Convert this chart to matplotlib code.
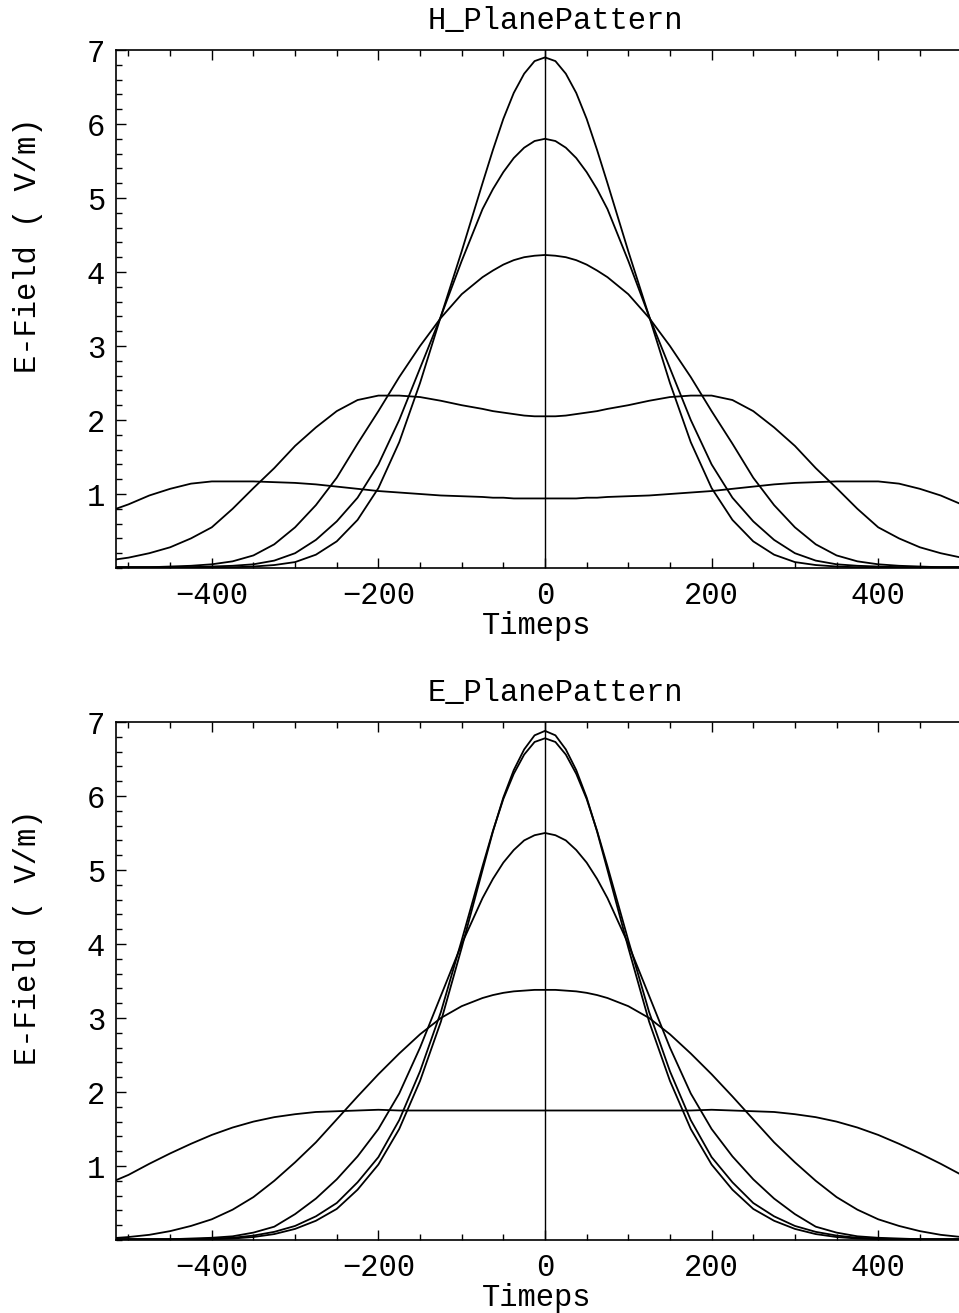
import matplotlib
matplotlib.use('Agg')
import matplotlib.pyplot as plt
import numpy as np
from matplotlib.ticker import MultipleLocator, FixedLocator

plt.rcParams['font.family'] = ['Liberation Mono', 'DejaVu Sans Mono']

# time axis in ps (finer steps round the peak)
t = np.concatenate([np.arange(-525, -99, 25), np.arange(-75, 76, 12.5), np.arange(100, 526, 25)])

## H-plane pattern (top)
h_a = [0.01, 0.01, 0.01, 0.01, 0.01, 0.01, 0.01, 0.02, 0.04, 0.08, 0.18, 0.36, 0.65, 1.08, 1.70, 2.50, 3.40, 4.28,
       5.20, 5.65, 6.07, 6.42, 6.68, 6.85, 6.90, 6.85, 6.68, 6.42, 6.07, 5.65, 5.20,
       4.28, 3.40, 2.50, 1.70, 1.08, 0.65, 0.36, 0.18, 0.08, 0.04, 0.02, 0.01, 0.01, 0.01, 0.01, 0.01, 0.01, 0.01]
h_b = [0.01, 0.01, 0.01, 0.01, 0.01, 0.02, 0.03, 0.05, 0.10, 0.20, 0.38, 0.63, 0.95, 1.40, 2.00, 2.70, 3.40, 4.15,
       4.85, 5.12, 5.35, 5.54, 5.68, 5.77, 5.80, 5.77, 5.68, 5.54, 5.35, 5.12, 4.85,
       4.15, 3.40, 2.70, 2.00, 1.40, 0.95, 0.63, 0.38, 0.20, 0.10, 0.05, 0.03, 0.02, 0.01, 0.01, 0.01, 0.01, 0.01]
h_c = [0.01, 0.01, 0.01, 0.02, 0.03, 0.05, 0.09, 0.17, 0.32, 0.55, 0.85, 1.22, 1.68, 2.12, 2.58, 3.00, 3.38, 3.70,
       3.93, 4.02, 4.10, 4.16, 4.20, 4.22, 4.23, 4.22, 4.20, 4.16, 4.10, 4.02, 3.93,
       3.70, 3.38, 3.00, 2.58, 2.12, 1.68, 1.22, 0.85, 0.55, 0.32, 0.17, 0.09, 0.05, 0.03, 0.02, 0.01, 0.01, 0.01]
h_d = [0.10, 0.14, 0.20, 0.28, 0.40, 0.55, 0.80, 1.08, 1.35, 1.65, 1.90, 2.12, 2.27, 2.33, 2.33, 2.31, 2.26, 2.20,
       2.15, 2.12, 2.10, 2.08, 2.06, 2.05, 2.05, 2.05, 2.06, 2.08, 2.10, 2.12, 2.15,
       2.20, 2.26, 2.31, 2.33, 2.33, 2.27, 2.12, 1.90, 1.65, 1.35, 1.08, 0.80, 0.55, 0.40, 0.28, 0.20, 0.14, 0.10]
h_e = [0.76, 0.86, 0.98, 1.07, 1.14, 1.17, 1.17, 1.17, 1.16, 1.15, 1.13, 1.10, 1.07, 1.04, 1.02, 1.00, 0.98, 0.97,
       0.96, 0.95, 0.95, 0.94, 0.94, 0.94, 0.94, 0.94, 0.94, 0.94, 0.95, 0.95, 0.96,
       0.97, 0.98, 1.00, 1.02, 1.04, 1.07, 1.10, 1.13, 1.15, 1.16, 1.17, 1.17, 1.17, 1.14, 1.07, 0.98, 0.86, 0.76]

## E-plane pattern (bottom)
e_a = [0.01, 0.01, 0.01, 0.01, 0.01, 0.01, 0.02, 0.04, 0.08, 0.15, 0.26, 0.42, 0.68, 1.02, 1.50, 2.15, 2.95, 3.95,
       5.00, 5.52, 5.98, 6.35, 6.63, 6.82, 6.88, 6.82, 6.63, 6.35, 5.98, 5.52, 5.00,
       3.95, 2.95, 2.15, 1.50, 1.02, 0.68, 0.42, 0.26, 0.15, 0.08, 0.04, 0.02, 0.01, 0.01, 0.01, 0.01, 0.01, 0.01]
e_b = [0.01, 0.01, 0.01, 0.01, 0.01, 0.02, 0.03, 0.06, 0.11, 0.19, 0.32, 0.50, 0.78, 1.12, 1.62, 2.28, 3.08, 4.05,
       5.05, 5.53, 5.96, 6.30, 6.56, 6.73, 6.78, 6.73, 6.56, 6.30, 5.96, 5.53, 5.05,
       4.05, 3.08, 2.28, 1.62, 1.12, 0.78, 0.50, 0.32, 0.19, 0.11, 0.06, 0.03, 0.02, 0.01, 0.01, 0.01, 0.01, 0.01]
e_c = [0.01, 0.01, 0.01, 0.01, 0.02, 0.03, 0.05, 0.10, 0.18, 0.35, 0.56, 0.82, 1.13, 1.50, 1.98, 2.60, 3.30, 4.00,
       4.62, 4.88, 5.10, 5.27, 5.40, 5.47, 5.50, 5.47, 5.40, 5.27, 5.10, 4.88, 4.62,
       4.00, 3.30, 2.60, 1.98, 1.50, 1.13, 0.82, 0.56, 0.35, 0.18, 0.10, 0.05, 0.03, 0.02, 0.01, 0.01, 0.01, 0.01]
e_d = [0.02, 0.04, 0.07, 0.12, 0.19, 0.28, 0.41, 0.58, 0.80, 1.05, 1.32, 1.63, 1.94, 2.24, 2.52, 2.78, 3.00, 3.16,
       3.27, 3.31, 3.34, 3.36, 3.37, 3.38, 3.38, 3.38, 3.37, 3.36, 3.34, 3.31, 3.27,
       3.16, 3.00, 2.78, 2.52, 2.24, 1.94, 1.63, 1.32, 1.05, 0.80, 0.58, 0.41, 0.28, 0.19, 0.12, 0.07, 0.04, 0.02]
e_e = [0.76, 0.88, 1.03, 1.17, 1.30, 1.42, 1.52, 1.60, 1.66, 1.70, 1.73, 1.74, 1.75, 1.76, 1.75, 1.75, 1.75, 1.75,
       1.75, 1.75, 1.75, 1.75, 1.75, 1.75, 1.75, 1.75, 1.75, 1.75, 1.75, 1.75, 1.75,
       1.75, 1.75, 1.75, 1.75, 1.76, 1.75, 1.74, 1.73, 1.70, 1.66, 1.60, 1.52, 1.42, 1.30, 1.17, 1.03, 0.88, 0.76]

panels = [
    ('H_PlanePattern', [h_a, h_b, h_c, h_d, h_e]),
    ('E_PlanePattern', [e_a, e_b, e_c, e_d, e_e]),
]

W, H = 959, 1313
fig = plt.figure(figsize=(W / 100, H / 100), dpi=100)

# pixel boxes of the two frames: (top, bottom)
boxes = [(50, 568), (722, 1240)]
title_y = [21, 693]
xlabel_y = [626, 1298]
ylabel_y = [245, 937]

fs = 22
for (title, curves), (top, bot), ty, xy, yy in zip(panels, boxes, title_y, xlabel_y, ylabel_y):
    ax = fig.add_axes([116 / W, 1 - bot / H, (W - 116) / W, (bot - top) / H])
    for y in curves:
        ax.plot(t, y, color='black', lw=1.3, solid_joinstyle='round')
    ax.plot([0, 0], [0, 7], color='black', lw=1.0)

    ax.set_xlim(-515, 497)
    ax.set_ylim(0, 7)

    ax.xaxis.set_major_locator(FixedLocator([-400, -200, 0, 200, 400]))
    ax.xaxis.set_minor_locator(MultipleLocator(50))
    ax.yaxis.set_major_locator(FixedLocator([1, 2, 3, 4, 5, 6, 7]))
    ax.yaxis.set_minor_locator(MultipleLocator(0.2))
    ax.tick_params(which='both', direction='in', top=True, right=False, width=1.0, labelsize=fs)
    ax.tick_params(axis='x', pad=9)
    ax.tick_params(axis='y', pad=8)
    ax.tick_params(which='major', length=7)
    ax.tick_params(which='minor', length=4)
    ax.spines['right'].set_visible(False)
    for s in ['left', 'bottom', 'top']:
        ax.spines[s].set_linewidth(1.2)

    fig.text(555 / W, 1 - ty / H, title, ha='center', va='center', fontsize=fs)
    fig.text(537 / W, 1 - xy / H, 'Timeps', ha='center', va='center', fontsize=fs)
    fig.text(28 / W, 1 - yy / H, 'E-Field ( V/m)', ha='center', va='center', rotation=90, fontsize=fs)

fig.savefig('out.png', dpi=100)
